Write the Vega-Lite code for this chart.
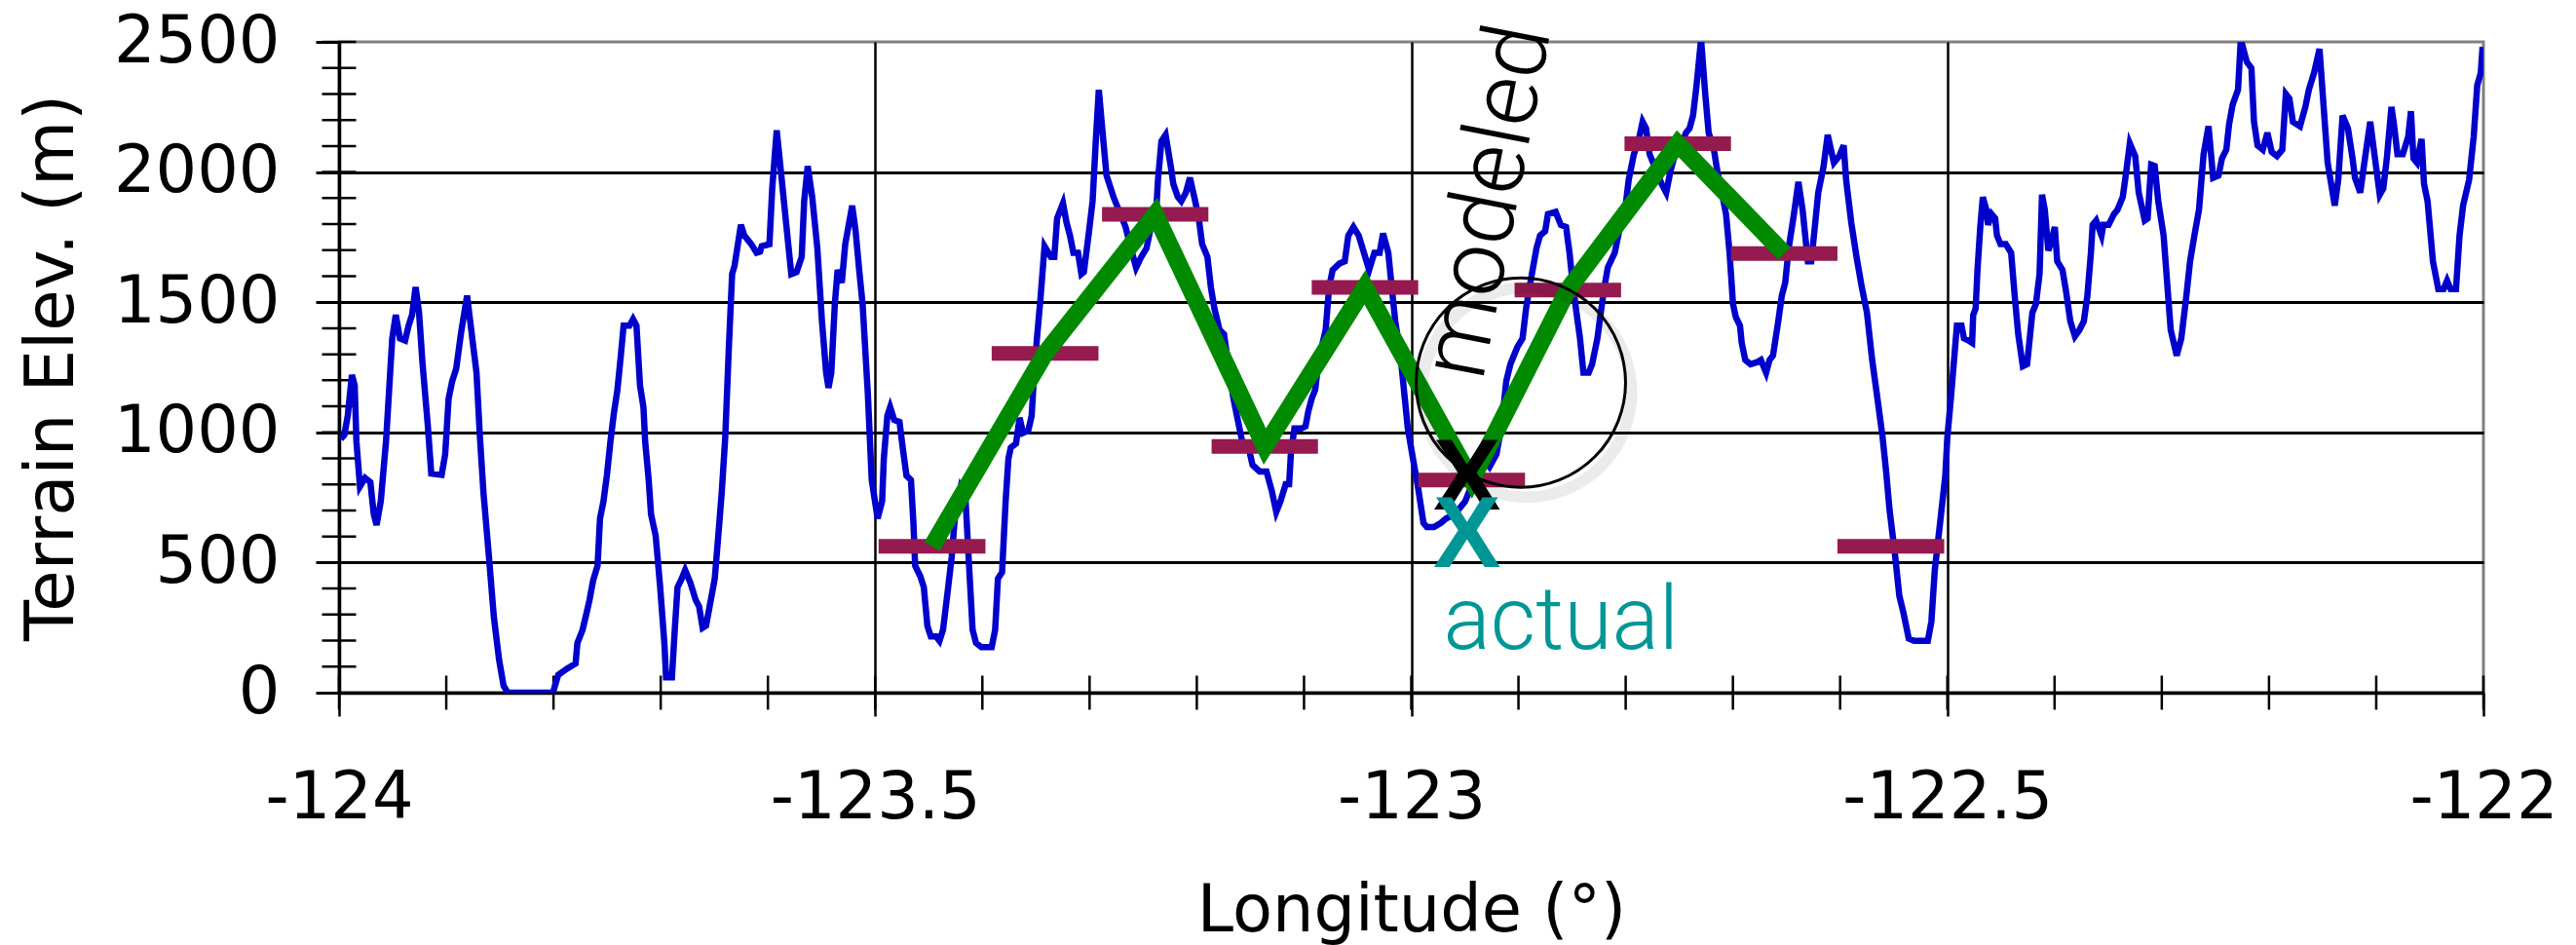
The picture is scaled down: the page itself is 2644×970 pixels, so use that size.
{
  "$schema": "https://vega.github.io/schema/vega-lite/v6.json",
  "width": 2201,
  "height": 668,
  "autosize": {"type": "none"},
  "padding": {"left": 348, "top": 43, "right": 95, "bottom": 259},
  "background": "white",
  "config": {"view": {"stroke": "#808080", "strokeWidth": 3}},
  "datasets": {
    "terrain": [
      {"lon":-123.9984,"elev":974},{"lon":-123.9951,"elev":990},{"lon":-123.9919,"elev":1064},{"lon":-123.988,"elev":1221},{"lon":-123.9854,"elev":1180},{"lon":-123.9838,"elev":965},{"lon":-123.9805,"elev":792},{"lon":-123.9757,"elev":825},{"lon":-123.9708,"elev":809},{"lon":-123.9676,"elev":685},{"lon":-123.965,"elev":644},{"lon":-123.9611,"elev":735},{"lon":-123.9562,"elev":965},{"lon":-123.9504,"elev":1361},{"lon":-123.9471,"elev":1451},{"lon":-123.9432,"elev":1361},{"lon":-123.9384,"elev":1353},{"lon":-123.9351,"elev":1410},{"lon":-123.9319,"elev":1451},{"lon":-123.9286,"elev":1558},{"lon":-123.9254,"elev":1460},{"lon":-123.9221,"elev":1262},{"lon":-123.9173,"elev":1031},{"lon":-123.914,"elev":842},{"lon":-123.9043,"elev":837},{"lon":-123.901,"elev":916},{"lon":-123.8978,"elev":1130},{"lon":-123.8945,"elev":1196},{"lon":-123.8907,"elev":1245},{"lon":-123.8864,"elev":1377},{"lon":-123.8806,"elev":1525},{"lon":-123.8767,"elev":1394},{"lon":-123.8718,"elev":1229},{"lon":-123.8686,"elev":982},{"lon":-123.8653,"elev":768},{"lon":-123.8605,"elev":537},{"lon":-123.8556,"elev":290},{"lon":-123.8507,"elev":125},{"lon":-123.8465,"elev":26},{"lon":-123.8426,"elev":0},{"lon":-123.8005,"elev":0},{"lon":-123.7956,"elev":68},{"lon":-123.7875,"elev":92},{"lon":-123.7794,"elev":112},{"lon":-123.7777,"elev":191},{"lon":-123.7729,"elev":241},{"lon":-123.7696,"elev":298},{"lon":-123.7664,"elev":356},{"lon":-123.7631,"elev":430},{"lon":-123.7589,"elev":488},{"lon":-123.7566,"elev":669},{"lon":-123.7534,"elev":735},{"lon":-123.7502,"elev":834},{"lon":-123.7469,"elev":965},{"lon":-123.7437,"elev":1072},{"lon":-123.7404,"elev":1163},{"lon":-123.7372,"elev":1295},{"lon":-123.7346,"elev":1410},{"lon":-123.7291,"elev":1410},{"lon":-123.7258,"elev":1435},{"lon":-123.7226,"elev":1410},{"lon":-123.7193,"elev":1180},{"lon":-123.7161,"elev":1097},{"lon":-123.7145,"elev":965},{"lon":-123.7112,"elev":817},{"lon":-123.709,"elev":685},{"lon":-123.7047,"elev":603},{"lon":-123.7005,"elev":405},{"lon":-123.6966,"elev":191},{"lon":-123.695,"elev":59},{"lon":-123.6895,"elev":59},{"lon":-123.6869,"elev":241},{"lon":-123.6843,"elev":405},{"lon":-123.6804,"elev":438},{"lon":-123.6772,"elev":471},{"lon":-123.6723,"elev":422},{"lon":-123.6674,"elev":356},{"lon":-123.6642,"elev":331},{"lon":-123.6609,"elev":249},{"lon":-123.6577,"elev":257},{"lon":-123.6544,"elev":331},{"lon":-123.6496,"elev":438},{"lon":-123.6463,"elev":603},{"lon":-123.6431,"elev":768},{"lon":-123.6398,"elev":982},{"lon":-123.6366,"elev":1311},{"lon":-123.6334,"elev":1608},{"lon":-123.6311,"elev":1641},{"lon":-123.6252,"elev":1797},{"lon":-123.622,"elev":1756},{"lon":-123.6155,"elev":1723},{"lon":-123.6106,"elev":1690},{"lon":-123.6074,"elev":1694},{"lon":-123.6058,"elev":1715},{"lon":-123.5986,"elev":1723},{"lon":-123.596,"elev":1937},{"lon":-123.5918,"elev":2160},{"lon":-123.5879,"elev":2003},{"lon":-123.5831,"elev":1806},{"lon":-123.5782,"elev":1608},{"lon":-123.5733,"elev":1616},{"lon":-123.5685,"elev":1674},{"lon":-123.5662,"elev":1888},{"lon":-123.5629,"elev":2023},{"lon":-123.5587,"elev":1904},{"lon":-123.5539,"elev":1707},{"lon":-123.5496,"elev":1427},{"lon":-123.5457,"elev":1229},{"lon":-123.5435,"elev":1171},{"lon":-123.5409,"elev":1229},{"lon":-123.5376,"elev":1493},{"lon":-123.535,"elev":1624},{"lon":-123.5311,"elev":1575},{"lon":-123.5279,"elev":1723},{"lon":-123.5214,"elev":1871},{"lon":-123.5182,"elev":1773},{"lon":-123.5149,"elev":1624},{"lon":-123.5117,"elev":1493},{"lon":-123.5068,"elev":1147},
      {"lon":-123.5032,"elev":817},{"lon":-123.4977,"elev":669},{"lon":-123.4935,"elev":735},{"lon":-123.4919,"elev":899},{"lon":-123.4886,"elev":1064},{"lon":-123.486,"elev":1097},{"lon":-123.4822,"elev":1048},{"lon":-123.4773,"elev":1040},{"lon":-123.474,"elev":932},{"lon":-123.4708,"elev":834},{"lon":-123.4666,"elev":817},{"lon":-123.4643,"elev":652},{"lon":-123.4627,"elev":488},{"lon":-123.4578,"elev":446},{"lon":-123.4546,"elev":405},{"lon":-123.4513,"elev":257},{"lon":-123.4481,"elev":216},{"lon":-123.4432,"elev":216},{"lon":-123.44,"elev":199},{"lon":-123.4367,"elev":241},{"lon":-123.4319,"elev":405},{"lon":-123.4286,"elev":521},{"lon":-123.4254,"elev":685},{"lon":-123.4205,"elev":784},{"lon":-123.4156,"elev":735},{"lon":-123.4124,"elev":488},{"lon":-123.4091,"elev":241},{"lon":-123.4059,"elev":191},{"lon":-123.401,"elev":175},{"lon":-123.3913,"elev":175},{"lon":-123.3881,"elev":241},{"lon":-123.3855,"elev":438},{"lon":-123.3816,"elev":463},{"lon":-123.3783,"elev":735},{"lon":-123.3757,"elev":899},{"lon":-123.3735,"elev":941},{"lon":-123.3686,"elev":957},{"lon":-123.3653,"elev":1056},{"lon":-123.3621,"elev":998},{"lon":-123.3572,"elev":1007},{"lon":-123.354,"elev":1064},{"lon":-123.3524,"elev":1180},{"lon":-123.3491,"elev":1361},{"lon":-123.3459,"elev":1509},{"lon":-123.342,"elev":1715},{"lon":-123.3361,"elev":1674},{"lon":-123.3329,"elev":1674},{"lon":-123.3303,"elev":1822},{"lon":-123.3248,"elev":1880},{"lon":-123.3215,"elev":1806},{"lon":-123.3183,"elev":1756},{"lon":-123.3151,"elev":1690},{"lon":-123.3108,"elev":1690},{"lon":-123.3076,"elev":1608},{"lon":-123.3053,"elev":1616},{"lon":-123.3005,"elev":1773},{"lon":-123.2972,"elev":1888},{"lon":-123.294,"elev":2135},{"lon":-123.2914,"elev":2316},{"lon":-123.2875,"elev":2135},{"lon":-123.2842,"elev":1987},{"lon":-123.2777,"elev":1904},{"lon":-123.2729,"elev":1855},{"lon":-123.2664,"elev":1789},{"lon":-123.2615,"elev":1707},{"lon":-123.2566,"elev":1633},{"lon":-123.2518,"elev":1674},{"lon":-123.2469,"elev":1707},{"lon":-123.242,"elev":1806},{"lon":-123.2378,"elev":1855},{"lon":-123.2362,"elev":1970},{"lon":-123.233,"elev":2119},{"lon":-123.2291,"elev":2143},{"lon":-123.2242,"elev":2020},{"lon":-123.2219,"elev":1954},{"lon":-123.2177,"elev":1904},{"lon":-123.2145,"elev":1888},{"lon":-123.2102,"elev":1921},{"lon":-123.2064,"elev":1978},{"lon":-123.2015,"elev":1888},{"lon":-123.1982,"elev":1822},{"lon":-123.195,"elev":1723},{"lon":-123.1901,"elev":1674},{"lon":-123.1869,"elev":1558},{"lon":-123.1836,"elev":1476},{"lon":-123.1788,"elev":1394},{"lon":-123.1746,"elev":1377},{"lon":-123.1707,"elev":1262},{"lon":-123.1658,"elev":1130},{"lon":-123.1626,"elev":1064},{"lon":-123.1577,"elev":965},{"lon":-123.1512,"elev":932},{"lon":-123.148,"elev":875},{"lon":-123.1415,"elev":850},{"lon":-123.135,"elev":850},{"lon":-123.1301,"elev":776},{"lon":-123.1259,"elev":694},{"lon":-123.122,"elev":735},{"lon":-123.1171,"elev":801},{"lon":-123.1139,"elev":801},{"lon":-123.1123,"elev":916},{"lon":-123.109,"elev":1015},{"lon":-123.1025,"elev":1015},{"lon":-123.0986,"elev":1023},{"lon":-123.096,"elev":1081},{"lon":-123.0928,"elev":1130},{"lon":-123.0896,"elev":1163},{"lon":-123.0863,"elev":1278},{"lon":-123.0798,"elev":1394},{"lon":-123.0766,"elev":1558},{"lon":-123.0733,"elev":1624},{"lon":-123.0668,"elev":1649},{"lon":-123.062,"elev":1657},{"lon":-123.0587,"elev":1756},{"lon":-123.0539,"elev":1789},{"lon":-123.049,"elev":1756},{"lon":-123.0441,"elev":1690},{"lon":-123.0393,"elev":1624},{"lon":-123.0344,"elev":1690},{"lon":-123.0295,"elev":1690},{"lon":-123.0263,"elev":1764},{"lon":-123.0214,"elev":1690},{"lon":-123.0182,"elev":1558},{"lon":-123.0149,"elev":1427},{"lon":-123.01,"elev":1295},{"lon":-123.0052,"elev":1097},
      {"lon":-123.0032,"elev":1015},{"lon":-122.9984,"elev":899},{"lon":-122.9935,"elev":784},{"lon":-122.9886,"elev":652},{"lon":-122.9854,"elev":636},{"lon":-122.9789,"elev":636},{"lon":-122.9724,"elev":652},{"lon":-122.9676,"elev":669},{"lon":-122.9594,"elev":685},{"lon":-122.9497,"elev":735},{"lon":-122.9432,"elev":801},{"lon":-122.9335,"elev":899},{"lon":-122.927,"elev":867},{"lon":-122.9205,"elev":916},{"lon":-122.9156,"elev":1031},{"lon":-122.9114,"elev":1196},{"lon":-122.9075,"elev":1262},{"lon":-122.9043,"elev":1295},{"lon":-122.901,"elev":1328},{"lon":-122.8962,"elev":1361},{"lon":-122.8929,"elev":1476},{"lon":-122.8897,"elev":1558},{"lon":-122.8864,"elev":1633},{"lon":-122.8832,"elev":1707},{"lon":-122.8799,"elev":1756},{"lon":-122.8751,"elev":1773},{"lon":-122.8725,"elev":1838},{"lon":-122.8653,"elev":1847},{"lon":-122.8605,"elev":1797},{"lon":-122.8556,"elev":1789},{"lon":-122.8524,"elev":1690},{"lon":-122.8491,"elev":1558},{"lon":-122.8459,"elev":1460},{"lon":-122.8426,"elev":1361},{"lon":-122.8394,"elev":1229},{"lon":-122.8345,"elev":1229},{"lon":-122.8313,"elev":1262},{"lon":-122.8264,"elev":1361},{"lon":-122.8232,"elev":1460},{"lon":-122.8199,"elev":1558},{"lon":-122.8167,"elev":1633},{"lon":-122.8102,"elev":1690},{"lon":-122.8053,"elev":1789},{"lon":-122.8005,"elev":1855},{"lon":-122.7972,"elev":1970},{"lon":-122.7923,"elev":2069},{"lon":-122.7881,"elev":2119},{"lon":-122.7842,"elev":2193},{"lon":-122.781,"elev":2168},{"lon":-122.7777,"elev":2069},{"lon":-122.7729,"elev":2020},{"lon":-122.7664,"elev":1954},{"lon":-122.7622,"elev":1921},{"lon":-122.7583,"elev":2003},{"lon":-122.755,"elev":2053},{"lon":-122.7485,"elev":2102},{"lon":-122.7437,"elev":2151},{"lon":-122.7404,"elev":2168},{"lon":-122.7372,"elev":2217},{"lon":-122.7339,"elev":2333},{"lon":-122.7297,"elev":2510},{"lon":-122.7258,"elev":2300},{"lon":-122.7226,"elev":2151},{"lon":-122.7177,"elev":2086},{"lon":-122.7145,"elev":2003},{"lon":-122.7103,"elev":1921},{"lon":-122.7064,"elev":1838},{"lon":-122.7031,"elev":1690},{"lon":-122.6999,"elev":1493},{"lon":-122.6973,"elev":1443},{"lon":-122.6934,"elev":1410},{"lon":-122.6918,"elev":1344},{"lon":-122.6885,"elev":1278},{"lon":-122.6836,"elev":1262},{"lon":-122.6772,"elev":1270},{"lon":-122.6739,"elev":1278},{"lon":-122.669,"elev":1229},{"lon":-122.6658,"elev":1278},{"lon":-122.6626,"elev":1295},{"lon":-122.6577,"elev":1427},{"lon":-122.6544,"elev":1525},{"lon":-122.6512,"elev":1575},{"lon":-122.648,"elev":1707},{"lon":-122.6431,"elev":1838},{"lon":-122.6389,"elev":1962},{"lon":-122.635,"elev":1855},{"lon":-122.6301,"elev":1657},{"lon":-122.6269,"elev":1657},{"lon":-122.6236,"elev":1789},{"lon":-122.6204,"elev":1921},{"lon":-122.6155,"elev":2020},{"lon":-122.6116,"elev":2143},{"lon":-122.6058,"elev":2036},{"lon":-122.6009,"elev":2061},{"lon":-122.5967,"elev":2102},{"lon":-122.5944,"elev":1970},{"lon":-122.5896,"elev":1806},{"lon":-122.5847,"elev":1674},{"lon":-122.5798,"elev":1558},{"lon":-122.575,"elev":1460},{"lon":-122.5701,"elev":1278},{"lon":-122.5652,"elev":1130},{"lon":-122.5604,"elev":982},{"lon":-122.5571,"elev":850},{"lon":-122.5539,"elev":702},{"lon":-122.549,"elev":537},{"lon":-122.5448,"elev":372},{"lon":-122.5409,"elev":306},{"lon":-122.536,"elev":208},{"lon":-122.5311,"elev":199},{"lon":-122.5182,"elev":199},{"lon":-122.5149,"elev":273},{"lon":-122.5117,"elev":471},{"lon":-122.5068,"elev":652},{"lon":-122.5019,"elev":834},
      {"lon":-122.5,"elev":982},{"lon":-122.4967,"elev":1130},{"lon":-122.4934,"elev":1295},{"lon":-122.4911,"elev":1410},{"lon":-122.4868,"elev":1410},{"lon":-122.4845,"elev":1361},{"lon":-122.4802,"elev":1353},{"lon":-122.4769,"elev":1344},{"lon":-122.4759,"elev":1451},{"lon":-122.4736,"elev":1476},{"lon":-122.4719,"elev":1624},{"lon":-122.4693,"elev":1789},{"lon":-122.4669,"elev":1904},{"lon":-122.4636,"elev":1855},{"lon":-122.462,"elev":1797},{"lon":-122.4587,"elev":1838},{"lon":-122.4554,"elev":1822},{"lon":-122.4537,"elev":1756},{"lon":-122.4504,"elev":1723},{"lon":-122.4455,"elev":1723},{"lon":-122.4405,"elev":1690},{"lon":-122.4372,"elev":1525},{"lon":-122.4339,"elev":1377},{"lon":-122.4296,"elev":1254},{"lon":-122.4256,"elev":1262},{"lon":-122.4207,"elev":1460},{"lon":-122.4174,"elev":1493},{"lon":-122.414,"elev":1608},{"lon":-122.4117,"elev":1913},{"lon":-122.4091,"elev":1855},{"lon":-122.4074,"elev":1773},{"lon":-122.4058,"elev":1698},{"lon":-122.4025,"elev":1740},{"lon":-122.3998,"elev":1789},{"lon":-122.3975,"elev":1657},{"lon":-122.3926,"elev":1624},{"lon":-122.3893,"elev":1542},{"lon":-122.3853,"elev":1427},{"lon":-122.381,"elev":1369},{"lon":-122.3767,"elev":1394},{"lon":-122.3727,"elev":1427},{"lon":-122.3694,"elev":1525},{"lon":-122.3661,"elev":1690},{"lon":-122.3645,"elev":1797},{"lon":-122.3612,"elev":1814},{"lon":-122.3562,"elev":1756},{"lon":-122.3545,"elev":1797},{"lon":-122.3496,"elev":1797},{"lon":-122.3446,"elev":1838},{"lon":-122.3413,"elev":1855},{"lon":-122.3364,"elev":1904},{"lon":-122.3331,"elev":2003},{"lon":-122.3298,"elev":2110},{"lon":-122.3248,"elev":2061},{"lon":-122.3215,"elev":1921},{"lon":-122.3159,"elev":1814},{"lon":-122.3132,"elev":1822},{"lon":-122.3099,"elev":2028},{"lon":-122.3066,"elev":2023},{"lon":-122.3033,"elev":1888},{"lon":-122.2983,"elev":1756},{"lon":-122.295,"elev":1575},{"lon":-122.2917,"elev":1394},{"lon":-122.2861,"elev":1295},{"lon":-122.2818,"elev":1361},{"lon":-122.2775,"elev":1509},{"lon":-122.2736,"elev":1657},{"lon":-122.2696,"elev":1756},{"lon":-122.2653,"elev":1855},{"lon":-122.261,"elev":2069},{"lon":-122.2564,"elev":2176},{"lon":-122.2521,"elev":1978},{"lon":-122.2471,"elev":1987},{"lon":-122.2438,"elev":2053},{"lon":-122.2398,"elev":2086},{"lon":-122.2372,"elev":2184},{"lon":-122.2339,"elev":2259},{"lon":-122.2289,"elev":2316},{"lon":-122.2263,"elev":2510},{"lon":-122.2207,"elev":2423},{"lon":-122.2164,"elev":2399},{"lon":-122.214,"elev":2193},{"lon":-122.2107,"elev":2102},{"lon":-122.2058,"elev":2086},{"lon":-122.2015,"elev":2151},{"lon":-122.1975,"elev":2077},{"lon":-122.1926,"elev":2061},{"lon":-122.1876,"elev":2086},{"lon":-122.1843,"elev":2300},{"lon":-122.181,"elev":2283},{"lon":-122.1777,"elev":2193},{"lon":-122.1711,"elev":2176},{"lon":-122.1661,"elev":2250},{"lon":-122.1628,"elev":2316},{"lon":-122.1579,"elev":2382},{"lon":-122.1529,"elev":2473},{"lon":-122.1496,"elev":2283},{"lon":-122.1453,"elev":2036},{"lon":-122.1387,"elev":1871},{"lon":-122.1354,"elev":1970},{"lon":-122.1314,"elev":2217},{"lon":-122.1264,"elev":2168},{"lon":-122.1221,"elev":2053},{"lon":-122.1198,"elev":1978},{"lon":-122.1149,"elev":1921},{"lon":-122.1116,"elev":2020},{"lon":-122.1056,"elev":2193},{"lon":-122.1017,"elev":2069},{"lon":-122.0967,"elev":1913},{"lon":-122.0934,"elev":1937},{"lon":-122.0901,"elev":2053},{"lon":-122.0858,"elev":2250},{"lon":-122.0835,"elev":2184},{"lon":-122.0802,"elev":2069},{"lon":-122.0752,"elev":2069},{"lon":-122.0702,"elev":2135},{"lon":-122.0676,"elev":2234},{"lon":-122.0653,"elev":2053},{"lon":-122.062,"elev":2036},{"lon":-122.0577,"elev":2127},{"lon":-122.0554,"elev":1954},{"lon":-122.0521,"elev":1888},{"lon":-122.0471,"elev":1657},{"lon":-122.0421,"elev":1550},{"lon":-122.0372,"elev":1550},{"lon":-122.0339,"elev":1583},{"lon":-122.0306,"elev":1550},{"lon":-122.0256,"elev":1550},{"lon":-122.0223,"elev":1756},{"lon":-122.019,"elev":1871},{"lon":-122.0134,"elev":1970},{"lon":-122.0091,"elev":2135},{"lon":-122.0058,"elev":2333},{"lon":-122.0025,"elev":2382},{"lon":-122.0008,"elev":2481}
    ],
    "cells": [
      {"lon":-123.4968,"lon2":-123.3971,"elev":562},
      {"lon":-123.3913,"lon2":-123.2917,"elev":1303},
      {"lon":-123.2884,"lon2":-123.1892,"elev":1838},
      {"lon":-123.1862,"lon2":-123.087,"elev":946},
      {"lon":-123.0928,"lon2":-122.9935,"elev":1557},
      {"lon":-122.9935,"lon2":-122.8939,"elev":817},
      {"lon":-122.9036,"lon2":-122.8043,"elev":1547},
      {"lon":-122.8011,"lon2":-122.7018,"elev":2109},
      {"lon":-122.7018,"lon2":-122.6025,"elev":1687},
      {"lon":-122.6025,"lon2":-122.5029,"elev":562}
    ],
    "modeled": [
      {"lon":-123.447,"elev":562},{"lon":-123.3415,"elev":1303},{"lon":-123.2388,"elev":1838},{"lon":-123.1366,"elev":946},{"lon":-123.0432,"elev":1557},{"lon":-122.9437,"elev":817},{"lon":-122.854,"elev":1547},{"lon":-122.7515,"elev":2109},{"lon":-122.6522,"elev":1687}
    ],
    "yminor": [
      {"lon":-124,"elev":100},{"lon":-124,"elev":200},{"lon":-124,"elev":300},{"lon":-124,"elev":400},{"lon":-124,"elev":500},{"lon":-124,"elev":600},{"lon":-124,"elev":700},{"lon":-124,"elev":800},{"lon":-124,"elev":900},{"lon":-124,"elev":1000},{"lon":-124,"elev":1100},{"lon":-124,"elev":1200},{"lon":-124,"elev":1300},{"lon":-124,"elev":1400},{"lon":-124,"elev":1500},{"lon":-124,"elev":1600},{"lon":-124,"elev":1700},{"lon":-124,"elev":1800},{"lon":-124,"elev":1900},{"lon":-124,"elev":2000},{"lon":-124,"elev":2100},{"lon":-124,"elev":2200},{"lon":-124,"elev":2300},{"lon":-124,"elev":2400},{"lon":-124,"elev":2500}
    ],
    "xminor": [
      {"lon":-124,"elev":0},{"lon":-123.9,"elev":0},{"lon":-123.8,"elev":0},{"lon":-123.7,"elev":0},{"lon":-123.6,"elev":0},{"lon":-123.5,"elev":0},{"lon":-123.4,"elev":0},{"lon":-123.3,"elev":0},{"lon":-123.2,"elev":0},{"lon":-123.1,"elev":0},{"lon":-123,"elev":0},{"lon":-122.9,"elev":0},{"lon":-122.8,"elev":0},{"lon":-122.7,"elev":0},{"lon":-122.6,"elev":0},{"lon":-122.5,"elev":0},{"lon":-122.4,"elev":0},{"lon":-122.3,"elev":0},{"lon":-122.2,"elev":0},{"lon":-122.1,"elev":0},{"lon":-122,"elev":0}
    ]
  },
  "encoding": {
    "x": {
      "field": "lon", "type": "quantitative",
      "scale": {"domain": [-124, -122], "nice": false, "zero": false},
      "axis": {
        "values": [-124, -123.5, -123, -122.5, -122],
        "labelExpr": "'' + datum.value",
        "labelFont": "DejaVu Sans", "labelFontSize": 67, "labelColor": "black",
        "labelPadding": 51, "labelFlush": false, "labelOverlap": false, "labelLimit": 0,
        "tickSize": 24, "tickColor": "black", "tickWidth": 2.5,
        "domainColor": "black", "domainWidth": 3.5,
        "grid": true, "gridColor": "black", "gridWidth": 2.5,
        "gridOpacity": {"condition": {"test": "datum.value == -124 || datum.value == -122", "value": 0}, "value": 1},
        "title": "Longitude (°)", "titleFont": "DejaVu Sans", "titleFontSize": 67,
        "titleFontWeight": "normal", "titleColor": "black", "titlePadding": 50
      }
    },
    "y": {
      "field": "elev", "type": "quantitative",
      "scale": {"domain": [0, 2500], "nice": false, "zero": false},
      "axis": {
        "values": [0, 500, 1000, 1500, 2000, 2500],
        "format": "d",
        "labelFont": "DejaVu Sans", "labelFontSize": 67, "labelColor": "black",
        "labelPadding": 37, "labelFlush": false, "labelOverlap": false, "labelLimit": 0,
        "tickSize": 24, "tickColor": "black", "tickWidth": 3,
        "domainColor": "black", "domainWidth": 3.5,
        "grid": true, "gridColor": "black", "gridWidth": 3,
        "gridOpacity": {"condition": {"test": "datum.value == 2500 || datum.value == 0", "value": 0}, "value": 1},
        "title": "Terrain Elev. (m)", "titleFont": "DejaVu Sans", "titleFontSize": 69,
        "titleFontWeight": "normal", "titleColor": "black", "titlePadding": 60
      }
    }
  },
  "layer": [
    {"data": {"name": "yminor"}, "mark": {"type": "tick", "orient": "horizontal", "size": 35, "thickness": 2.5, "color": "black", "opacity": 1}},
    {"data": {"name": "xminor"}, "mark": {"type": "tick", "orient": "vertical", "size": 35, "thickness": 2.5, "color": "black", "opacity": 1}},
    {"data": {"name": "terrain"}, "mark": {"type": "line", "color": "#0000CC", "strokeWidth": 6.5, "clip": true}},
    {"data": {"name": "cells"}, "mark": {"type": "rule", "color": "#951A50", "strokeWidth": 15, "strokeCap": "butt"}, "encoding": {"x2": {"field": "lon2"}}},
    {"data": {"name": "modeled"}, "mark": {"type": "line", "color": "#008A00", "strokeWidth": 18, "strokeJoin": "miter", "strokeCap": "butt"}},
    {"data": {"values": [{"lon": -122.948, "elev": 703, "t": "X"}]}, "mark": {"type": "text", "align": "center", "baseline": "alphabetic", "font": "Liberation Sans", "fontWeight": "bold", "fontSize": 104, "color": "black"}, "encoding": {"text": {"field": "t"}}},
    {"data": {"values": [{"lon": -122.948, "elev": 483, "t": "X"}]}, "mark": {"type": "text", "align": "center", "baseline": "alphabetic", "font": "Liberation Sans", "fontWeight": "bold", "fontSize": 104, "color": "#009696"}, "encoding": {"text": {"field": "t"}}},
    {"data": {"values": [{"lon": -122.970, "elev": 168, "t": "actual"}]}, "mark": {"type": "text", "align": "left", "baseline": "alphabetic", "font": "Roboto", "fontWeight": 300, "fontSize": 90, "color": "#009696"}, "encoding": {"text": {"field": "t"}}},
    {"data": {"values": [{"lon": -122.8978, "elev": 1191}]}, "mark": {"type": "point", "shape": "circle", "size": 46225, "filled": false, "stroke": "black", "strokeWidth": 12, "opacity": 1, "strokeOpacity": 0.08, "xOffset": 6, "yOffset": 10}},
    {"data": {"values": [{"lon": -122.8978, "elev": 1191}]}, "mark": {"type": "point", "shape": "circle", "size": 46225, "filled": false, "stroke": "black", "strokeWidth": 3, "opacity": 1}},
    {"data": {"values": [{"lon": -122.9337, "elev": 1193, "t": "modeled"}]}, "mark": {"type": "text", "align": "left", "baseline": "alphabetic", "angle": -79, "font": "Roboto", "fontWeight": 300, "fontSize": 96, "color": "black"}, "encoding": {"text": {"field": "t"}}}
  ]
}
